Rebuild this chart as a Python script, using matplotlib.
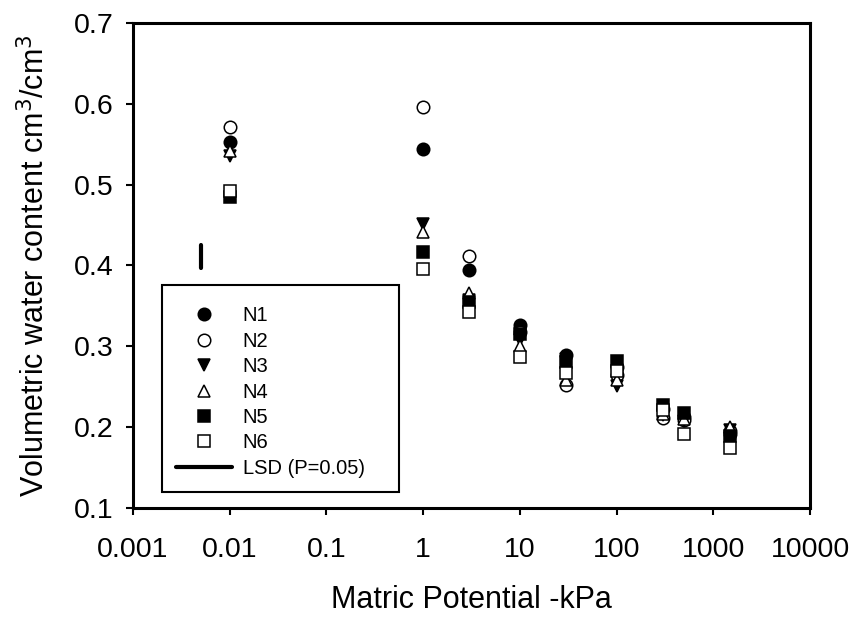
import matplotlib
matplotlib.use('Agg')
import matplotlib.pyplot as plt
from matplotlib.patches import Rectangle

plt.rcParams['font.family'] = ['Liberation Sans', 'DejaVu Sans']

# Matric potential (-kPa) and volumetric water content for each treatment
kpa = [0.01, 1, 3, 10, 30, 100, 300, 500, 1500]
n1 = [0.553, 0.544, 0.394, 0.326, 0.289, 0.275, 0.223, 0.212, 0.192]
n2 = [0.571, 0.596, 0.412, 0.318, 0.252, 0.265, 0.211, 0.209, 0.195]
n3 = [0.536, 0.451, 0.357, 0.308, 0.284, 0.251, 0.215, 0.208, 0.196]
n4 = [0.542, 0.441, 0.366, 0.300, 0.258, 0.258, 0.216, 0.210, 0.200]
n5 = [0.485, 0.417, 0.355, 0.315, 0.280, 0.282, 0.228, 0.217, 0.189]
n6 = [0.492, 0.396, 0.343, 0.287, 0.267, 0.270, 0.221, 0.191, 0.174]

# LSD bar
lsd_x = 0.005
lsd_center = 0.411
lsd_half = 0.0145

xticks = [0.001, 0.01, 0.1, 1, 10, 100, 1000, 10000]
xticklabels = ['0.001', '0.01', '0.1', '1', '10', '100', '1000', '10000']
yticks = [0.1, 0.2, 0.3, 0.4, 0.5, 0.6, 0.7]

W, H = 855, 617
fig = plt.figure(figsize=(W / 100, H / 100), dpi=100)
ax = fig.add_axes([0.1556, 0.1767, 0.7918, 0.786])

series = [
    ('N1', n1, 'o', 'black'),
    ('N2', n2, 'o', 'white'),
    ('N3', n3, 'v', 'black'),
    ('N4', n4, '^', 'white'),
    ('N5', n5, 's', 'black'),
    ('N6', n6, 's', 'white'),
]
for name, vals, m, fc in series:
    ax.plot(kpa, vals, linestyle='none', marker=m, markersize=9,
            markerfacecolor=fc, markeredgecolor='black', markeredgewidth=1.1,
            label=name)

ax.plot([lsd_x, lsd_x], [lsd_center - lsd_half, lsd_center + lsd_half],
        color='black', linewidth=3, solid_capstyle='round', label='LSD (P=0.05)')

ax.set_xscale('log')
ax.set_xlim(0.001, 10000)
ax.set_ylim(0.1, 0.7)
ax.set_xticks(xticks)
ax.set_xticklabels(xticklabels)
ax.xaxis.set_minor_locator(matplotlib.ticker.NullLocator())
ax.set_yticks(yticks)
ax.set_yticklabels(['%.1f' % v for v in yticks])
ax.tick_params(direction='out', length=5, width=1.5, labelsize=20.5)
ax.tick_params(axis='x', pad=16)
ax.tick_params(axis='y', pad=9)

for sp in ax.spines.values():
    sp.set_linewidth(2.2)

ax.set_xlabel('Matric Potential -kPa', fontsize=22, labelpad=16)
ax.set_ylabel('Volumetric water content cm$^3$/cm$^3$', fontsize=22, labelpad=16)

# legend entries without their own frame; the box is drawn separately
handles, labels = ax.get_legend_handles_labels()
fig.legend(handles, labels, loc='lower left',
           bbox_to_anchor=(162 / W, 1 - 492 / H), fontsize=14.5,
           frameon=False, borderpad=0.7,
           labelspacing=0.32, handlelength=2.8, handletextpad=0.5,
           borderaxespad=0)
fig.patches.append(Rectangle((162 / W, 1 - 492 / H), 237 / W, 207 / H,
                             transform=fig.transFigure, fill=False,
                             edgecolor='black', linewidth=1.5, zorder=5))

fig.savefig('out.png', dpi=100)
